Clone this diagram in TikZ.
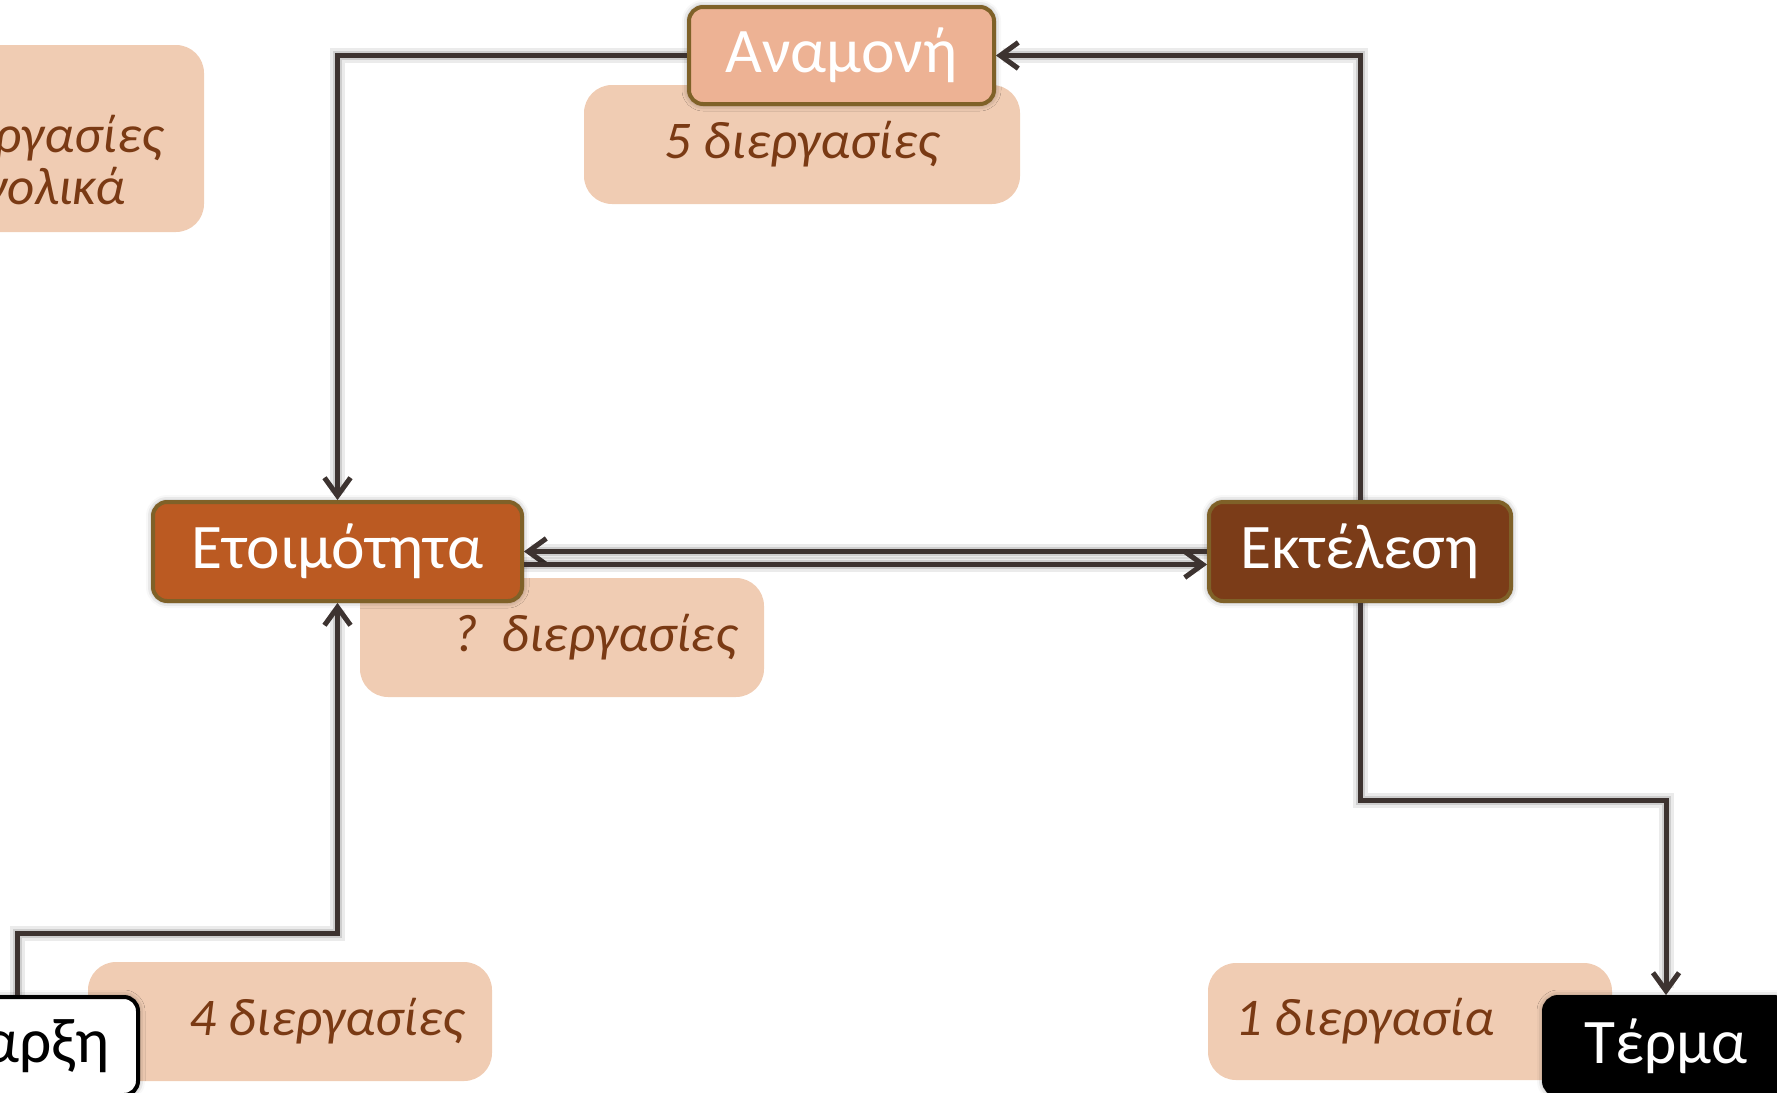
\documentclass[tikz,border=0pt]{standalone}
\usepackage{fontspec}
\setmainfont{Carlito}
\usetikzlibrary{arrows.meta,shadows.blur}
\definecolor{lblbg}{HTML}{F0CCB3}
\definecolor{lbltxt}{HTML}{7A3A14}
\definecolor{bord}{HTML}{7F6128}
\definecolor{waitc}{HTML}{EDB294}
\definecolor{readyc}{HTML}{BB5A22}
\definecolor{runc}{HTML}{7B3C18}
\definecolor{linec}{HTML}{3D3330}
\tikzset{
  lblbox/.style={fill=lblbg, rounded corners=28pt, inner sep=0pt},
  lbltext/.style={text=lbltxt, font=\fontsize{53}{52}\selectfont\itshape, inner sep=0pt},
  statebox/.style={draw=bord, line width=4pt, rounded corners=14pt, text=white,
    font=\fontsize{63.5}{70}\selectfont, inner sep=0pt,
    blur shadow={shadow xshift=0pt, shadow yshift=0pt, shadow blur radius=7pt, shadow opacity=45}},
  conn/.style={draw=linec, line width=5pt,
    -{Straight Barb[length=18pt,width=26pt,line width=5pt]},
    preaction={draw=black, opacity=0.08, line width=15pt},
    preaction={draw=black, opacity=0.12, line width=9pt}},
}
\begin{document}
\begin{tikzpicture}[x=1pt,y=-1pt]
\useasboundingbox (0,0) rectangle (1777,1092);
\clip (0,0) rectangle (1777,1092);
% label backgrounds
\node[lblbox, minimum width=354pt, minimum height=187pt] (btot) at (27,138.5) {};
\node[lblbox, minimum width=436pt, minimum height=119pt] (bwait) at (802,144.5) {};
\node[lblbox, minimum width=404pt, minimum height=119pt] (bready) at (562,637.5) {};
\node[lblbox, minimum width=404pt, minimum height=119pt] (bstart) at (290,1021.5) {};
\node[lblbox, minimum width=404pt, minimum height=117pt] (bend) at (1410,1021.5) {};
% label texts
\node[lbltext, align=center] (ttot) at (26,160) {9 διεργασίες\\συνολικά};
\node[lbltext] (twait) at (802,144) {5 διεργασίες};
\node[lbltext] (tready) at (595,637) {?\ \ διεργασίες};
\node[lbltext] (tstart) at (327,1021) {4 διεργασίες};
\node[lbltext] (tend) at (1365,1021) {1 διεργασία};
% state boxes
\node[statebox, fill=waitc, minimum width=305pt, minimum height=97pt] (wait) at (841.5,55.5) {Αναμονή};
\node[statebox, fill=readyc, minimum width=369pt, minimum height=99pt] (ready) at (337.5,551.5) {Ετοιμότητα};
\node[statebox, fill=runc, minimum width=302pt, minimum height=99pt] (run) at (1360,551.5) {Εκτέλεση};
\node[statebox, draw=black, fill=white, text=black, minimum width=242pt, minimum height=98pt] (start) at (17,1046) {Έναρξη};
\node[statebox, draw=black, fill=black, minimum width=244pt, minimum height=98pt] (end) at (1666,1046) {Τέρμα};
% connectors
\draw[conn] (wait.west) -| (ready.north);
\draw[conn] (run.north) |- (wait.east);
\draw[conn] (run.west) -- (ready.east);
\draw[conn] ([yshift=-13pt]ready.east) -- ([yshift=-13pt]run.west);
\draw[conn] (start.north) -- ++(0,-62) -| (ready.south);
\draw[conn] (run.south) -- ++(0,197) -| (end.north);
\end{tikzpicture}
\end{document}
